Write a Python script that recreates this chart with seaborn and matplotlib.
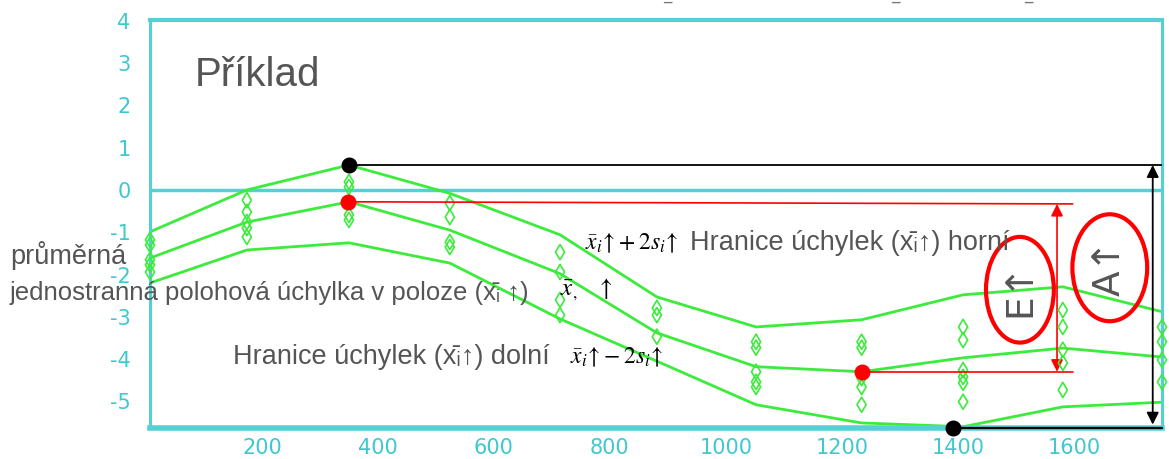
import matplotlib
matplotlib.use("Agg")
import matplotlib.pyplot as plt
from matplotlib.patches import Ellipse
import seaborn as sns
import pandas as pd
import numpy as np

# ---- data ----
positions = [7, 174, 350, 524, 714, 881, 1052, 1234, 1409, 1581, 1752]
upper_limit = [-0.99, 0.00, 0.59, -0.08, -1.06, -2.53, -3.24, -3.07, -2.48, -2.29, -2.88]
mean_line = [-1.61, -0.76, -0.28, -0.95, -1.98, -3.38, -4.18, -4.30, -3.97, -3.74, -3.95]
lower_limit = [-2.20, -1.42, -1.25, -1.73, -3.05, -4.05, -5.08, -5.51, -5.60, -5.13, -5.02]

measurements = [
    [-1.18, -1.30, -1.65, -1.77, -1.94],
    [-0.24, -0.52, -0.76, -0.90, -1.11],
    [0.19, 0.07, -0.59, -0.71],
    [-0.31, -0.64, -1.23, -1.35],
    [-1.47, -1.94, -2.60, -2.96],
    [-2.79, -2.96, -3.47],
    [-3.59, -3.73, -4.30, -4.54, -4.66],
    [-3.59, -3.73, -4.45, -4.66, -5.08],
    [-3.24, -3.55, -4.26, -4.42, -4.56, -5.01],
    [-2.84, -3.24, -3.78, -4.09, -4.73],
    [-3.24, -3.59, -4.02, -4.54],
]

x_ticks = [200, 400, 600, 800, 1000, 1200, 1400, 1600]
y_ticks = [-5, -4, -3, -2, -1, 0, 1, 2, 3, 4]

# key points
max_point = (350, 0.59)
min_point = (1391, -5.62)
mean_max_point = (348, -0.28)
mean_min_point = (1234, -4.30)

# ---- styling ----
GREEN = "#3CEB3C"
CYAN = "#55D0D4"
TICKCOL = "#3EC8D0"
GRAY = "#555555"

sns.set_theme(style="white")
plt.rcParams["font.family"] = ["Liberation Sans", "DejaVu Sans"]
plt.rcParams["mathtext.fontset"] = "stix"

fig = plt.figure(figsize=(11.69, 4.59), dpi=100)
ax = fig.add_axes([150 / 1169, 1 - 428 / 459, (1162 - 150) / 1169, (428 - 20) / 459])

lines_df = pd.DataFrame({
    "x": positions * 3,
    "y": upper_limit + mean_line + lower_limit,
    "series": ["upper"] * 11 + ["mean"] * 11 + ["lower"] * 11,
})
sns.lineplot(data=lines_df, x="x", y="y", units="series", estimator=None,
             color=GREEN, lw=2.0, ax=ax, legend=False, sort=False)

pts_x, pts_y = [], []
for p, vals in zip(positions, measurements):
    for v in vals:
        pts_x.append(p)
        pts_y.append(v)
pts_df = pd.DataFrame({"x": pts_x, "y": pts_y})
sns.scatterplot(data=pts_df, x="x", y="y", marker="d", s=60,
                facecolor="none", edgecolor=GREEN, linewidth=1.2, ax=ax,
                legend=False, zorder=4)
for c in ax.collections:
    c.set_clip_on(False)

ax.axhline(0, color=CYAN, lw=2.5, zorder=1)

ax.set_xlim(7, 1752)
ax.set_ylim(-5.63, 4.02)
ax.set_xticks(x_ticks)
ax.set_yticks(y_ticks)
ax.set_xticklabels([str(t) for t in x_ticks])
ax.set_yticklabels([str(t) for t in y_ticks])
ax.set_xlabel("")
ax.set_ylabel("")
ax.tick_params(axis="both", direction="in", length=4, width=1.2, color="#FF4040",
               labelcolor=TICKCOL, labelsize=15)
ax.tick_params(axis="x", pad=7)
ax.tick_params(axis="y", pad=14)
for lab in ax.get_xticklabels() + ax.get_yticklabels():
    lab.set_family(["Liberation Sans Narrow", "DejaVu Sans"])

for side, w in [("top", 3), ("bottom", 4), ("left", 2.2), ("right", 2.2)]:
    ax.spines[side].set_color(CYAN)
    ax.spines[side].set_linewidth(w)

# extreme points and guide lines
ax.plot([max_point[0], 1752], [max_point[1], max_point[1]], color="black", lw=1.3, zorder=5)
ax.plot([min_point[0], 1752], [min_point[1], min_point[1]], color="black", lw=1.6, zorder=5,
        clip_on=False)
ax.plot([mean_max_point[0], 1598], [mean_max_point[1], -0.33], color="red", lw=1.2, zorder=5)
ax.plot([mean_min_point[0], 1598], [mean_min_point[1], mean_min_point[1]], color="red", lw=1.2, zorder=5)
ax.scatter([max_point[0], min_point[0]], [max_point[1], min_point[1]], s=110, color="black",
           zorder=6, clip_on=False)
ax.scatter([mean_max_point[0], mean_min_point[0]], [mean_max_point[1], mean_min_point[1]], s=110,
           color="red", zorder=6)

ax.annotate("", xy=(1571, -0.33), xytext=(1571, mean_min_point[1]),
            arrowprops=dict(arrowstyle="<|-|>", color="red", lw=1.2, mutation_scale=18,
                            shrinkA=0, shrinkB=0))
ax.annotate("", xy=(1736, max_point[1]), xytext=(1736, -5.55),
            arrowprops=dict(arrowstyle="<|-|>", color="black", lw=1.3, mutation_scale=18,
                            shrinkA=0, shrinkB=0))

# ellipses with labels
ax.add_patch(Ellipse((1507, -2.36), 117, 2.5, fill=False, edgecolor="red", lw=3, zorder=7))
ax.add_patch(Ellipse((1662, -1.84), 129, 2.53, fill=False, edgecolor="red", lw=3, zorder=7))
ax.text(1507, -2.36, "E↑", rotation=90, ha="center", va="center", fontsize=27,
        color=GRAY, family=["DejaVu Sans"], zorder=8)
ax.text(1662, -1.84, "A↑", rotation=90, ha="center", va="center", fontsize=27,
        color=GRAY, family=["DejaVu Sans"], zorder=8)

# texts
ax.text(84, 2.72, "Příklad", fontsize=29, color=GRAY, ha="left", va="center")

FS = 19.5
fig.text(10 / 1169, 1 - 255 / 459, "průměrná", fontsize=FS, color=GRAY, ha="left", va="center")
fig.text(10 / 1169, 1 - 293 / 459, "jednostranná polohová úchylka v poloze (x\u0304ᵢ ↑)",
         fontsize=18.5, color=GRAY, ha="left", va="center",
         family=["Liberation Sans", "DejaVu Sans"])
fig.text(560 / 1169, 1 - 290 / 459, r"$\bar{x}_{,}\quad\uparrow$", fontsize=18, color="black",
         ha="left", va="center")

fig.text(585 / 1169, 1 - 243 / 459, r"$\bar{x}_i\!\uparrow\!+2s_i\!\uparrow$", fontsize=17,
         color="black", ha="left", va="center")
fig.text(690 / 1169, 1 - 243 / 459, "Hranice úchylek (x\u0304ᵢ↑) horní", fontsize=FS,
         color=GRAY, ha="left", va="center", family=["Liberation Sans", "DejaVu Sans"], zorder=3)

fig.text(233 / 1169, 1 - 357 / 459, "Hranice úchylek (x\u0304ᵢ↑) dolní", fontsize=FS,
         color=GRAY, ha="left", va="center", family=["Liberation Sans", "DejaVu Sans"])
fig.text(570 / 1169, 1 - 357 / 459, r"$\bar{x}_i\!\uparrow\!-2s_i\!\uparrow$", fontsize=17,
         color="black", ha="left", va="center")

# cut-off overbars at the top
for xp in [667, 895, 1028]:
    fig.text(xp / 1169, 1 - 10 / 459, "‾", fontsize=12, color="#777777", ha="center",
             va="center", family=["DejaVu Sans"])

fig.savefig("out.png", dpi=100)
